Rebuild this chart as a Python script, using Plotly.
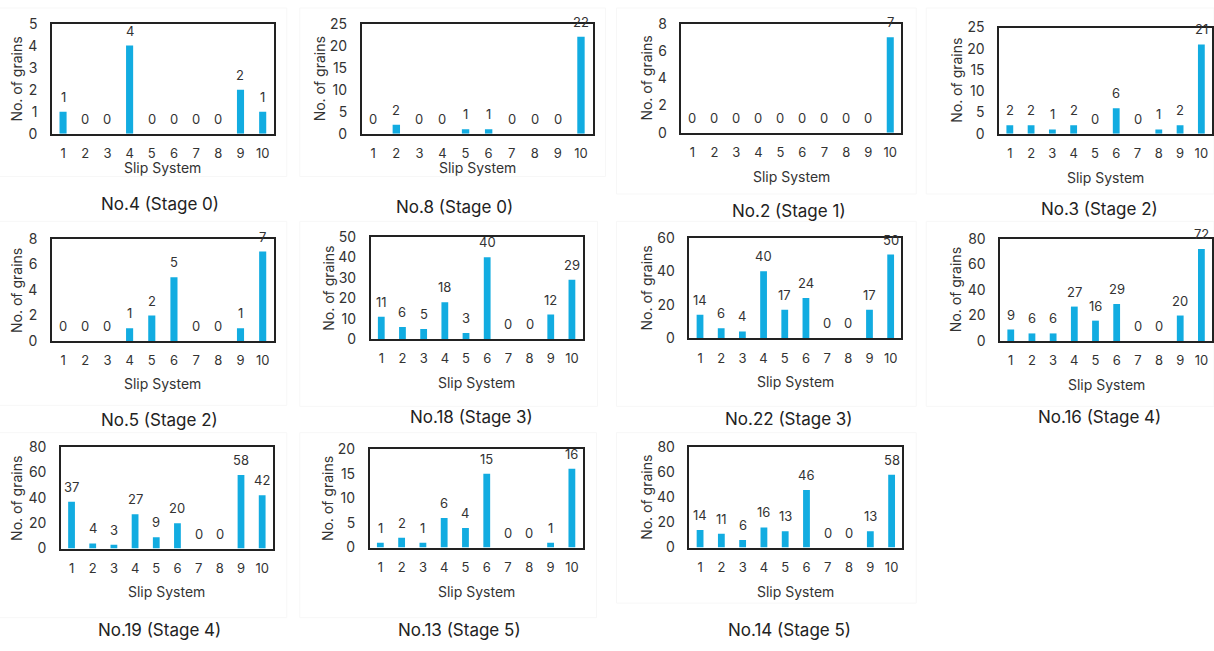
import plotly.graph_objects as go

# Slip-system activity counts per sample
slip_systems = [1, 2, 3, 4, 5, 6, 7, 8, 9, 10]

no4_stage0 = [1, 0, 0, 4, 0, 0, 0, 0, 2, 1]
no8_stage0 = [0, 2, 0, 0, 1, 1, 0, 0, 0, 22]
no2_stage1 = [0, 0, 0, 0, 0, 0, 0, 0, 0, 7]
no3_stage2 = [2, 2, 1, 2, 0, 6, 0, 1, 2, 21]
no5_stage2 = [0, 0, 0, 1, 2, 5, 0, 0, 1, 7]
no18_stage3 = [11, 6, 5, 18, 3, 40, 0, 0, 12, 29]
no22_stage3 = [14, 6, 4, 40, 17, 24, 0, 0, 17, 50]
no16_stage4 = [9, 6, 6, 27, 16, 29, 0, 0, 20, 72]
no19_stage4 = [37, 4, 3, 27, 9, 20, 0, 0, 58, 42]
no13_stage5 = [1, 2, 1, 6, 4, 15, 0, 0, 1, 16]
no14_stage5 = [14, 11, 6, 16, 13, 46, 0, 0, 13, 58]

panel_titles = ["No.4 (Stage 0)", "No.8 (Stage 0)", "No.2 (Stage 1)", "No.3 (Stage 2)",
                "No.5 (Stage 2)", "No.18 (Stage 3)", "No.22 (Stage 3)", "No.16 (Stage 4)",
                "No.19 (Stage 4)", "No.13 (Stage 5)", "No.14 (Stage 5)"]
panel_series = [no4_stage0, no8_stage0, no2_stage1, no3_stage2, no5_stage2, no18_stage3,
                no22_stage3, no16_stage4, no19_stage4, no13_stage5, no14_stage5]
y_max = [5, 25, 8, 25, 8, 50, 60, 80, 80, 20, 80]
y_step = [1, 5, 2, 5, 2, 10, 20, 20, 20, 5, 20]

# Layout of each panel in pixels: plot box (left, right, top, bottom),
# x-axis title centre y, panel caption centre (x, y), y-axis title centre x
W, H = 1214, 651
boxes = [
    (52, 274, 15, 128), (362, 593, 15, 128), (682, 902, 15, 127), (1000, 1213, 19, 128),
    (52, 274, 236, 341), (371, 583, 234, 339), (690, 902, 235, 338), (1001, 1213, 236, 341),
    (61, 273, 450, 554), (370, 583, 452, 553), (690, 903, 450, 553),
]
xtitle_y = [163, 163, 172, 173, 385, 384, 382, 386, 598, 598, 598]
caption_xy = [(160, 200), (455, 203), (790, 207), (1100, 205),
              (160, 422), (472, 419), (790, 421), (1100, 419),
              (160, 638), (460, 638), (790, 638)]
ytitle_x = [17, 320, 647, 957, 17, 328, 647, 957, 17, 328, 647]
# faint chart-area frames (left, right, top, bottom)
frames = [
    (-1, 287, -1, 172), (300, 606, -1, 172), (617, 917, -1, 190), (927, 1215, -1, 190),
    (-1, 287, 218, 407), (300, 598, 218, 408), (617, 917, 218, 408), (927, 1215, 218, 408),
    (-1, 287, 435, 625), (300, 597, 435, 625), (617, 917, 435, 610),
]

BAR = "#12ace1"
TXT = "#333333"
FONT = "Inter"

fig = go.Figure()
layout = dict(
    width=W, height=H, margin=dict(l=0, r=0, t=0, b=0),
    paper_bgcolor="white", plot_bgcolor="white", showlegend=False,
    font=dict(family=FONT, color=TXT, size=12), bargap=0.68,
)
annotations = []
shapes = []

def px(x):
    return x / W

def py(y):
    return 1 - y / H

for l, r, t, b in frames:
    shapes.append(dict(type="rect", xref="paper", yref="paper", layer="below",
                       x0=px(l), x1=px(r), y0=py(b), y1=py(t),
                       line=dict(color="#f7f7f7", width=1), fillcolor="rgba(0,0,0,0)"))

for i, (vals, title) in enumerate(zip(panel_series, panel_titles)):
    n = i + 1
    xa = "x" if n == 1 else f"x{n}"
    ya = "y" if n == 1 else f"y{n}"
    x0, x1, yt, yb = boxes[i]
    fig.add_trace(go.Bar(x=slip_systems, y=vals, xaxis=xa, yaxis=ya,
                         marker=dict(color=BAR, line=dict(width=0)),
                         hoverinfo="x+y"))
    axis_line = dict(showline=True, linecolor="#222222", linewidth=1.5, mirror=True,
                     showgrid=False, zeroline=False)
    layout[f"xaxis{'' if n == 1 else n}"] = dict(
        domain=[px(x0), px(x1)], anchor=ya, range=[0.5, 10.5],
        tickmode="array", tickvals=slip_systems, ticks="outside", ticklen=7,
        tickcolor="rgba(0,0,0,0)", tickfont=dict(size=13, color=TXT), **axis_line)
    layout[f"yaxis{'' if n == 1 else n}"] = dict(
        domain=[py(yb), py(yt)], anchor=xa, range=[0, y_max[i]],
        tick0=0, dtick=y_step[i], ticks="outside", ticklen=10,
        tickcolor="rgba(0,0,0,0)", tickfont=dict(size=14, color=TXT), **axis_line)
    # value labels above bars
    for s, v in zip(slip_systems, vals):
        annotations.append(dict(x=s, y=v, xref=xa, yref=ya, text=str(v), showarrow=False,
                                xanchor="center", yanchor="middle", yshift=15,
                                font=dict(size=13, color=TXT)))
    # axis titles and caption
    annotations.append(dict(x=px((x0 + x1) / 2), y=py(xtitle_y[i]), xref="paper", yref="paper",
                            text="Slip System", showarrow=False,
                            xanchor="center", yanchor="middle",
                            font=dict(size=14, color=TXT)))
    annotations.append(dict(x=px(ytitle_x[i]), y=py((yt + yb) / 2), xref="paper", yref="paper",
                            text="No. of grains", showarrow=False, textangle=-90,
                            xanchor="center", yanchor="middle",
                            font=dict(size=14, color=TXT)))
    cx, cy = caption_xy[i]
    annotations.append(dict(x=px(cx), y=py(cy), xref="paper", yref="paper", text=title,
                            showarrow=False, xanchor="center", yanchor="middle",
                            font=dict(size=17, color="#222222")))

layout["annotations"] = annotations
layout["shapes"] = shapes
fig.update_layout(**layout)
fig.write_html("out.html")
